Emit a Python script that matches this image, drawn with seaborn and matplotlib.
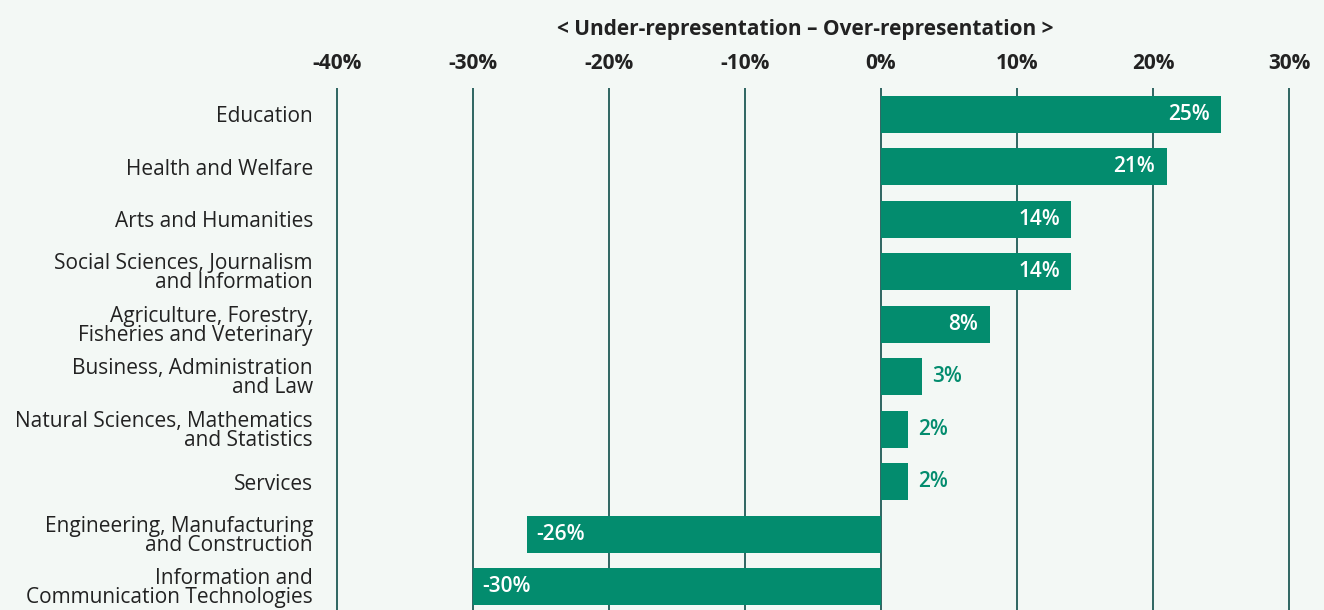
import matplotlib
matplotlib.use("Agg")
import matplotlib.pyplot as plt
import seaborn as sns
import pandas as pd

# Gender gap by field of study (percentage points)
fields = [
    "Education",
    "Health and Welfare",
    "Arts and Humanities",
    "Social Sciences, Journalism\nand Information",
    "Agriculture, Forestry,\nFisheries and Veterinary",
    "Business, Administration\nand Law",
    "Natural Sciences, Mathematics\nand Statistics",
    "Services",
    "Engineering, Manufacturing\nand Construction",
    "Information and\nCommunication Technologies",
]
gaps = [25, 21, 14, 14, 8, 3, 2, 2, -26, -30]
value_labels = ["25%", "21%", "14%", "14%", "8%", "3%", "2%", "2%", "-26%", "-30%"]
tick_values = [-40, -30, -20, -10, 0, 10, 20, 30]
tick_labels = ["-40%", "-30%", "-20%", "-10%", "0%", "10%", "20%", "30%"]
heading = "< Under-representation \u2013 Over-representation >"

BG = "#f3f8f5"
BAR = "#038c6e"
GRID = "#1f5a56"
TEXT = "#222222"
FS = 15

sns.set_theme(style="white")
plt.rcParams["font.family"] = ["Open Sans", "DejaVu Sans"]

df = pd.DataFrame({"field": fields, "gap": gaps})

W, H = 1324, 610
fig = plt.figure(figsize=(W / 100, H / 100), dpi=100, facecolor=BG)
ax = fig.add_axes([323.4 / W, -3 / H, 979.2 / W, 525 / H])
ax.set_facecolor(BG)

sns.barplot(data=df, y="field", x="gap", orient="h", color=BAR,
            saturation=1, width=0.70, linewidth=0, ax=ax, zorder=3)

ax.set_xlim(-41, 31)
ax.set_ylim(len(fields) - 0.5, -0.5)
ax.set_xticks(tick_values)
ax.set_xticklabels(tick_labels, fontsize=FS, fontweight="bold", color=TEXT)
ax.xaxis.tick_top()
ax.tick_params(axis="x", length=0, pad=10)
ax.tick_params(axis="y", length=0, pad=7.5)
for lab in ax.get_yticklabels():
    lab.set_fontsize(FS)
    lab.set_color(TEXT)
    lab.set_linespacing(0.86)
    lab.set_ha("right")
    lab.set_multialignment("right")
ax.set_xlabel("")
ax.set_ylabel("")
ax.grid(axis="x", color=GRID, linewidth=1.3, zorder=0)
ax.grid(axis="y", visible=False)
for s in ax.spines.values():
    s.set_visible(False)

# value labels: inside long bars (white), outside short bars (green)
for i, (v, t) in enumerate(zip(gaps, value_labels)):
    if abs(v) >= 8:
        if v > 0:
            ax.text(v - 0.85, i, t, ha="right", va="center", color="white",
                    fontsize=FS, fontweight="semibold", zorder=4)
        else:
            ax.text(v + 0.65, i, t, ha="left", va="center", color="white",
                    fontsize=FS, fontweight="semibold", zorder=4)
    else:
        ax.text(v + 0.75, i, t, ha="left", va="center", color=BAR,
                fontsize=FS, fontweight="semibold", zorder=4)

fig.text(805 / W, 1 - 30 / H, heading, ha="center", va="center",
         fontsize=FS, fontweight="bold", color=TEXT)

fig.savefig("out.png", dpi=100, facecolor=BG)
